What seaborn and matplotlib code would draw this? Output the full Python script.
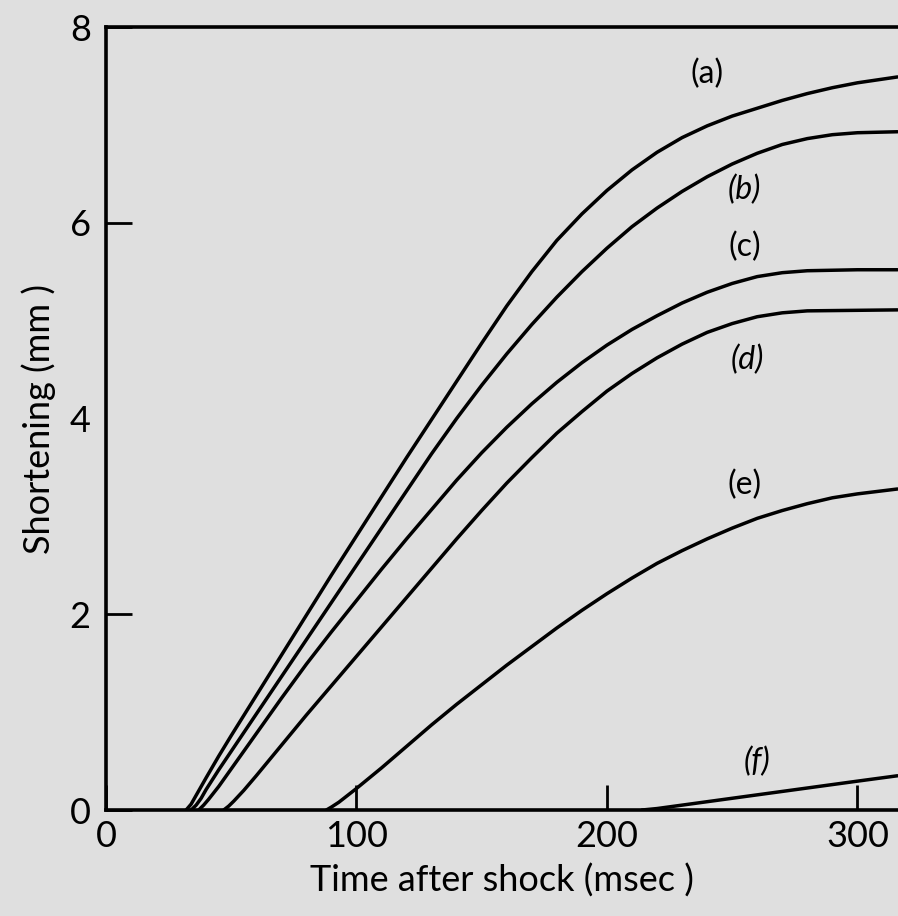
import pandas as pd
import numpy as np
import matplotlib.pyplot as plt
import seaborn as sns

# Kurvenwerte (Zeit in msec, Verkuerzung in mm)
t_a = [32, 34, 36, 38, 40, 45, 50, 60, 70, 80, 90, 100, 110, 120, 130, 140, 150, 160, 170,
       180, 190, 200, 210, 220, 230, 240, 250, 260, 270, 280, 290, 300, 316]
s_a = [0.0, 0.06, 0.15, 0.24, 0.33, 0.55, 0.76, 1.17, 1.58, 1.99, 2.40, 2.80, 3.20, 3.60, 3.99,
       4.38, 4.77, 5.15, 5.50, 5.82, 6.09, 6.33, 6.54, 6.72, 6.87, 6.99, 7.09, 7.17, 7.25, 7.32,
       7.38, 7.43, 7.49]

t_b = [34, 36, 38, 40, 45, 50, 60, 70, 80, 90, 100, 110, 120, 130, 140, 150, 160, 170, 180,
       190, 200, 210, 220, 230, 240, 250, 260, 270, 280, 290, 300, 316]
s_b = [0.0, 0.05, 0.12, 0.21, 0.41, 0.60, 0.98, 1.36, 1.74, 2.12, 2.50, 2.88, 3.26, 3.64, 4.00,
       4.34, 4.66, 4.96, 5.24, 5.50, 5.74, 5.96, 6.15, 6.32, 6.47, 6.60, 6.71, 6.80, 6.86, 6.90,
       6.92, 6.93]

t_c = [37, 39, 41, 45, 50, 60, 70, 80, 90, 100, 110, 120, 130, 140, 150, 160, 170, 180, 190,
       200, 210, 220, 230, 240, 250, 260, 270, 280, 300, 316]
s_c = [0.0, 0.05, 0.11, 0.24, 0.42, 0.78, 1.14, 1.49, 1.82, 2.14, 2.46, 2.77, 3.07, 3.37, 3.65,
       3.91, 4.15, 4.37, 4.57, 4.75, 4.91, 5.05, 5.18, 5.29, 5.38, 5.45, 5.49, 5.51, 5.52, 5.52]

t_d = [47, 49, 51, 55, 60, 70, 80, 90, 100, 110, 120, 130, 140, 150, 160, 170, 180, 190, 200,
       210, 220, 230, 240, 250, 260, 270, 280, 316]
s_d = [0.0, 0.04, 0.09, 0.20, 0.35, 0.66, 0.97, 1.27, 1.57, 1.87, 2.17, 2.47, 2.77, 3.06, 3.34,
       3.60, 3.85, 4.07, 4.28, 4.46, 4.62, 4.76, 4.88, 4.97, 5.04, 5.08, 5.10, 5.11]

t_e = [88, 90, 93, 100, 110, 120, 130, 140, 150, 160, 170, 180, 190, 200, 210, 220, 230, 240,
       250, 260, 270, 280, 290, 300, 316]
s_e = [0.0, 0.03, 0.08, 0.22, 0.43, 0.65, 0.87, 1.08, 1.28, 1.48, 1.67, 1.86, 2.04, 2.21, 2.37,
       2.52, 2.65, 2.77, 2.88, 2.98, 3.06, 3.13, 3.19, 3.23, 3.28]

t_f = [214, 220, 230, 240, 250, 260, 270, 280, 290, 300, 316]
s_f = [0.0, 0.015, 0.05, 0.085, 0.12, 0.155, 0.19, 0.225, 0.26, 0.295, 0.35]

curve_names = ['a', 'b', 'c', 'd', 'e', 'f']
curve_t = [t_a, t_b, t_c, t_d, t_e, t_f]
curve_s = [s_a, s_b, s_c, s_d, s_e, s_f]

# Beschriftungen der Kurven
label_text = ['(a)', '(b)', '(c)', '(d)', '(e)', '(f)']
label_t = [240, 255, 255, 256, 255, 260]
label_s = [7.52, 6.34, 5.75, 4.60, 3.32, 0.49]
label_style = ['normal', 'italic', 'normal', 'italic', 'normal', 'italic']

frames = []
for name, tt, ss in zip(curve_names, curve_t, curve_s):
    frames.append(pd.DataFrame({'time': tt, 'shortening': ss, 'curve': name}))
df = pd.concat(frames, ignore_index=True)

sns.set_style('ticks')
plt.rcParams['font.family'] = ['Lato', 'DejaVu Sans']
plt.rcParams['text.color'] = 'black'
plt.rcParams['axes.labelcolor'] = 'black'
plt.rcParams['xtick.color'] = 'black'
plt.rcParams['ytick.color'] = 'black'

bg = '#dfdfdf'
fig = plt.figure(figsize=(8.98, 9.16), dpi=100, facecolor=bg)
ax = fig.add_axes([0.118, 0.1157, 0.882, 0.8548], facecolor=bg)

sns.lineplot(data=df, x='time', y='shortening', hue='curve', units='curve',
             estimator=None, sort=False, palette=['black'] * 6,
             linewidth=2.5, legend=False, ax=ax)

for txt, tx, sy, st in zip(label_text, label_t, label_s, label_style):
    ax.text(tx, sy, txt, fontsize=23, style=st, ha='center', va='center')

ax.set_xlim(0, 316.2)
ax.set_ylim(0, 8)
ax.set_xticks([0, 100, 200, 300])
ax.set_yticks([0, 2, 4, 6, 8])
ax.tick_params(axis='x', direction='in', length=18, width=2, pad=7, labelsize=26)
ax.tick_params(axis='y', direction='in', length=19, width=2, pad=11, labelsize=26)
ax.yaxis.get_major_ticks()[2].tick1line.set_visible(False)

for side in ['left', 'bottom', 'top']:
    ax.spines[side].set_linewidth(2.6)
    ax.spines[side].set_color('black')
ax.spines['right'].set_visible(False)

ax.set_xlabel('Time after shock (msec )', fontsize=26, labelpad=8)
ax.set_ylabel('Shortening (mm )', fontsize=26, labelpad=10)

fig.savefig('out.png', dpi=100, facecolor=bg)
